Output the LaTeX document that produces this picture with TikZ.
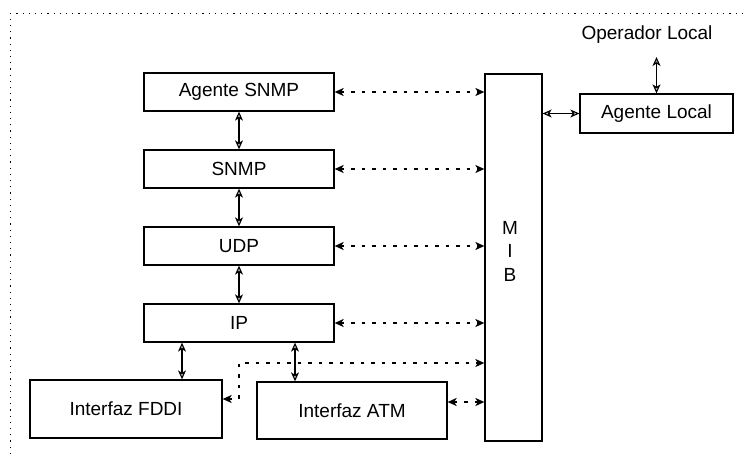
\documentclass[tikz,border=0pt]{standalone}
\usepackage{fontspec}
\setmainfont{Liberation Sans}
\usetikzlibrary{arrows.meta}
\begin{document}
\begin{tikzpicture}[x=1pt,y=-1pt,
  every node/.style={font=\fontsize{19}{23}\selectfont},
  layer/.style={draw, line width=1.3pt, minimum width=190pt, minimum height=38pt, inner sep=0pt},
  link/.style={line width=1.1pt, {Stealth[length=9pt,width=8pt,inset=2.5pt,fill=gray!55]}-{Stealth[length=9pt,width=8pt,inset=2.5pt,fill=gray!55]}},
  mgmt/.style={link, line width=1.6pt, dash pattern=on 3.5pt off 7pt},
  frame/.style={line width=1pt, dash pattern=on 1.2pt off 5pt}]
\useasboundingbox (0,0) rectangle (743,454);
\fill[white] (0,0) rectangle (743,454);

% outer system boundary (only top and left edges visible)
\draw[frame] (10,454) -- (10,14) -- (743,14);

% protocol stack
\node[layer] (asnmp) at (239,92) {Agente SNMP};
\node[layer] (snmp)  at (239,169) {SNMP};
\node[layer] (udp)   at (239,246) {UDP};
\node[layer] (ip)    at (239,323) {IP};
\node[layer, minimum width=192pt, minimum height=58pt] (fddi) at (126,409) {Interfaz FDDI};
\node[layer, minimum height=57pt] (atm) at (352,410.5) {Interfaz ATM};

% management information base
\node[draw, line width=1.3pt, minimum width=57pt, minimum height=367pt, inner sep=0pt] (mib) at (513.5,257.5) {};
\node[align=center, font=\fontsize{19}{23.5}\selectfont] (mibtxt) at (510,251) {M\\I\\B};

% local agent and operator
\node[layer, minimum width=153pt, minimum height=39pt] (alocal) at (656.5,113.5) {Agente Local};
\node (oper) at (647,35) {Operador Local};
\coordinate (opend) at (656.5,57);

% vertical links in the stack
\draw[link] (asnmp.south) -- (snmp.north);
\draw[link] (snmp.south) -- (udp.north);
\draw[link] (udp.south) -- (ip.north);
\draw[link] ([xshift=-57pt]ip.south) -- ([xshift=-57pt]ip.south |- fddi.north);
\draw[link] ([xshift=56pt]ip.south) -- ([xshift=56pt]ip.south |- atm.north);

% local agent links
\draw[link] (opend) -- (alocal.north -| opend);
\draw[link] (mib.east |- alocal.west) -- (alocal.west);

% management accesses to the MIB
\draw[mgmt] (asnmp.east) -- (asnmp.east -| mib.west);
\draw[mgmt] (snmp.east) -- (snmp.east -| mib.west);
\draw[mgmt] (udp.east) -- (udp.east -| mib.west);
\draw[mgmt] (ip.east) -- (ip.east -| mib.west);
\coordinate (bend) at (239,363);
\draw[mgmt] ([yshift=10pt]fddi.east) -- ([yshift=10pt]fddi.east -| bend) -- (bend) -- (bend -| mib.west);
\draw[mgmt] ([yshift=8.5pt]atm.east) -- ([yshift=8.5pt]atm.east -| mib.west);
\end{tikzpicture}
\end{document}
